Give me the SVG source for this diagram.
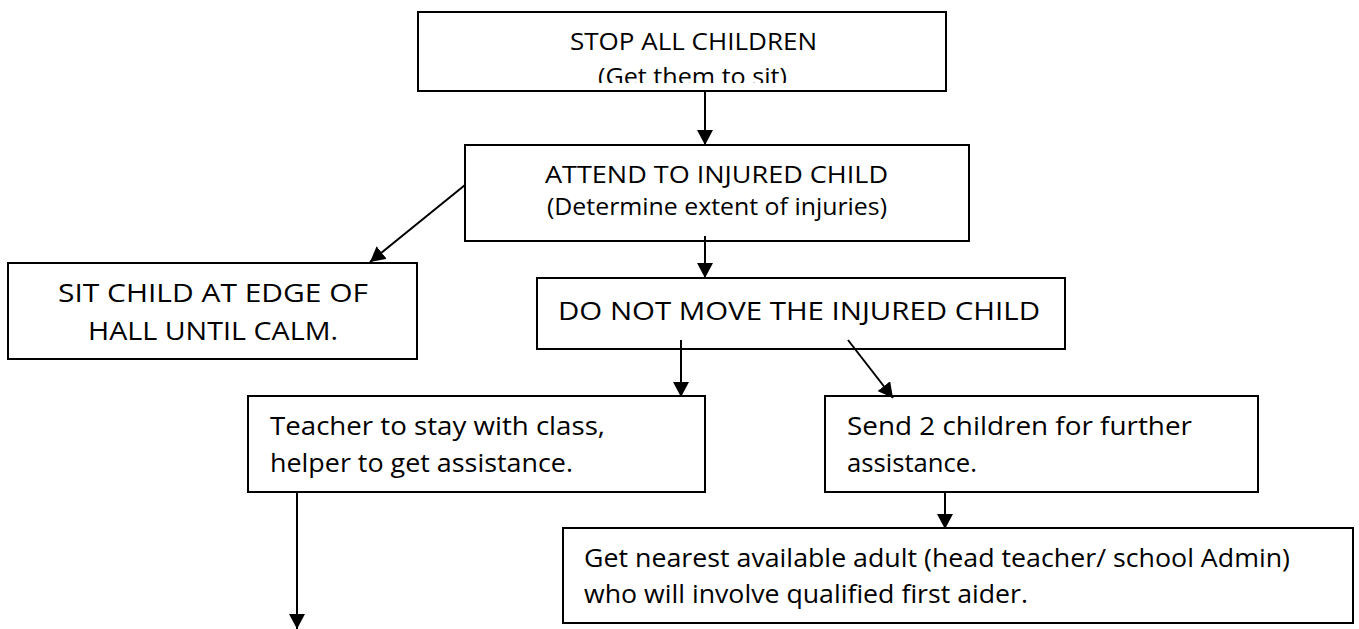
<svg xmlns="http://www.w3.org/2000/svg" width="1359" height="629" viewBox="0 0 1359 629">
<style>
.box{fill:#fff;stroke:#000;stroke-width:2}
.t{font-family:"Open Sans","Liberation Sans",sans-serif;fill:#000}
.c{stroke:#000;stroke-width:2;fill:none;marker-end:url(#ah)}
</style>
<defs>
<marker id="ah" markerWidth="16" markerHeight="16" refX="15" refY="8" orient="auto" markerUnits="userSpaceOnUse">
<path d="M0,0 L15,8 L0,16 Z" fill="#000"/>
</marker>
<clipPath id="clip1"><rect x="418" y="12" width="528" height="71"/></clipPath>
</defs>
<rect width="1359" height="629" fill="#fff"/>
<g id="n1">
<rect class="box" x="418" y="12" width="528" height="79"/>
<g clip-path="url(#clip1)">
<text class="t" x="570" y="50" font-size="23" textLength="247" lengthAdjust="spacingAndGlyphs">STOP ALL CHILDREN</text>
<text class="t" x="598" y="85" font-size="23" textLength="189" lengthAdjust="spacingAndGlyphs">(Get them to sit)</text>
</g>
</g>
<g id="n2">
<rect class="box" x="465" y="145" width="504" height="96"/>
<text class="t" x="545" y="183" font-size="23" textLength="343" lengthAdjust="spacingAndGlyphs">ATTEND TO INJURED CHILD</text>
<text class="t" x="547" y="215" font-size="23" textLength="340" lengthAdjust="spacingAndGlyphs">(Determine extent of injuries)</text>
</g>
<g id="n3">
<rect class="box" x="537" y="278" width="528" height="71"/>
<text class="t" x="558" y="320" font-size="26" textLength="482" lengthAdjust="spacingAndGlyphs">DO NOT MOVE THE INJURED CHILD</text>
</g>
<g id="n4">
<rect class="box" x="8" y="263" width="409" height="96"/>
<text class="t" x="58" y="302" font-size="25" textLength="310" lengthAdjust="spacingAndGlyphs">SIT CHILD AT EDGE OF</text>
<text class="t" x="88" y="340" font-size="25" textLength="250" lengthAdjust="spacingAndGlyphs">HALL UNTIL CALM.</text>
</g>
<g id="n5">
<rect class="box" x="248" y="396" width="457" height="96"/>
<text class="t" x="270" y="435" font-size="25" textLength="335" lengthAdjust="spacingAndGlyphs">Teacher to stay with class,</text>
<text class="t" x="270" y="472" font-size="25" textLength="303" lengthAdjust="spacingAndGlyphs">helper to get assistance.</text>
</g>
<g id="n6">
<rect class="box" x="825" y="396" width="433" height="96"/>
<text class="t" x="847" y="435" font-size="25" textLength="345" lengthAdjust="spacingAndGlyphs">Send 2 children for further</text>
<text class="t" x="847" y="472" font-size="25" textLength="130" lengthAdjust="spacingAndGlyphs">assistance.</text>
</g>
<g id="n7">
<rect class="box" x="563" y="528" width="790" height="95"/>
<text class="t" x="584" y="567" font-size="25" textLength="706" lengthAdjust="spacingAndGlyphs">Get nearest available adult (head teacher/ school Admin)</text>
<text class="t" x="584" y="603" font-size="25" textLength="444" lengthAdjust="spacingAndGlyphs">who will involve qualified first aider.</text>
</g>
<g id="connectors">
<line class="c" x1="705" y1="91" x2="705" y2="145"/>
<line class="c" x1="705" y1="236" x2="705" y2="278"/>
<line class="c" x1="465" y1="185" x2="370" y2="262"/>
<line class="c" x1="681" y1="340" x2="681" y2="397"/>
<line class="c" x1="848" y1="340" x2="893" y2="398"/>
<line class="c" x1="945" y1="492" x2="945" y2="529"/>
<line class="c" x1="297" y1="492" x2="297" y2="629"/>
</g>
</svg>
